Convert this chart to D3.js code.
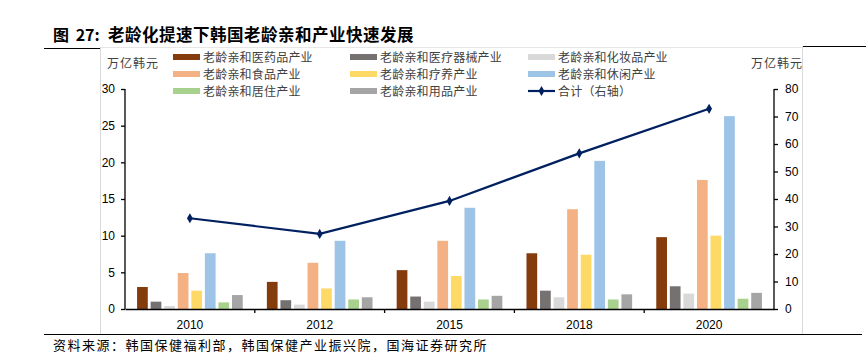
<!DOCTYPE html>
<html>
<head>
<meta charset="utf-8">
<script src="https://cdn.jsdelivr.net/npm/d3@7"></script>
<style>
	body { margin: 0; background: #fff; }
	svg { display: block; font-family: "Liberation Sans", Arial, sans-serif; }
	.cjk { font-family: "Noto Sans CJK SC", sans-serif; }
</style>
</head>
<body>
<svg id="canvas" width="866" height="354"></svg>
<script>
// data
var years = ["2010", "2012", "2015", "2018", "2020"];
var seriesNames = ["老龄亲和医药品产业", "老龄亲和医疗器械产业", "老龄亲和化妆品产业",
	"老龄亲和食品产业", "老龄亲和疗养产业", "老龄亲和休闲产业",
	"老龄亲和居住产业", "老龄亲和用品产业"];
var seriesColors = ["#843C0C", "#767171", "#D9D9D9", "#F4B183", "#FFD966", "#9DC3E6", "#A9D18E", "#A5A5A5"];
var medicine = [3.0, 3.7, 5.3, 7.6, 9.8];
var devices = [1.0, 1.2, 1.7, 2.5, 3.1];
var cosmetics = [0.4, 0.6, 1.0, 1.6, 2.1];
var food = [4.9, 6.3, 9.3, 13.6, 17.6];
var care = [2.5, 2.8, 4.5, 7.4, 10.0];
var leisure = [7.6, 9.3, 13.8, 20.2, 26.3];
var housing = [0.9, 1.3, 1.3, 1.3, 1.4];
var goods = [1.9, 1.6, 1.8, 2.0, 2.2];
var total = [33.0, 27.3, 39.3, 56.6, 72.8];
var leftTicks = [0, 5, 10, 15, 20, 25, 30];
var rightTicks = [0, 10, 20, 30, 40, 50, 60, 70, 80];
var allSeries = [medicine, devices, cosmetics, food, care, leisure, housing, goods];

var svg = d3.select("#canvas");
var plotLeft = 125, plotRight = 774, plotTop = 89, plotBottom = 309;

var x0 = d3.scaleBand().domain(years).range([plotLeft, plotRight]).padding(0);
var x1 = d3.scaleBand().domain(d3.range(allSeries.length))
	.range([0, x0.bandwidth()]).paddingInner(0.21).paddingOuter(0.89);
var yL = d3.scaleLinear().domain([0, 30]).range([plotBottom, plotTop]);
var yR = d3.scaleLinear().domain([0, 80]).range([plotBottom, plotTop]);

// frame lines
svg.append("line").attr("x1", 44).attr("x2", 100).attr("y1", 48.5).attr("y2", 48.5)
	.attr("stroke", "#000").attr("stroke-width", 1);
svg.append("line").attr("x1", 100).attr("x2", 802).attr("y1", 47.5).attr("y2", 47.5)
	.attr("stroke", "#e6e6e6").attr("stroke-width", 1);
svg.append("line").attr("x1", 802).attr("x2", 866).attr("y1", 46.5).attr("y2", 46.5)
	.attr("stroke", "#000").attr("stroke-width", 1);
svg.append("line").attr("x1", 100.5).attr("x2", 100.5).attr("y1", 47).attr("y2", 334)
	.attr("stroke", "#d9d9d9");
svg.append("line").attr("x1", 802.5).attr("x2", 802.5).attr("y1", 46).attr("y2", 334)
	.attr("stroke", "#d9d9d9");
svg.append("line").attr("x1", 44).attr("x2", 862).attr("y1", 334.5).attr("y2", 334.5)
	.attr("stroke", "#000").attr("stroke-width", 1);

// title, in two pieces so the gap after the colon stays
svg.append("text").attr("class", "cjk").attr("x", 53).attr("y", 41)
	.attr("font-size", 16).attr("font-weight", "bold").attr("fill", "#000")
	.attr("word-spacing", 3)
	.text("图 27:");
svg.append("text").attr("class", "cjk").attr("x", 108).attr("y", 41)
	.attr("font-size", 16.5).attr("font-weight", "bold").attr("fill", "#000")
	.attr("letter-spacing", 0.5)
	.text("老龄化提速下韩国老龄亲和产业快速发展");

// source
svg.append("text").attr("class", "cjk").attr("x", 53).attr("y", 350)
	.attr("font-size", 13).attr("letter-spacing", 1.5).attr("fill", "#000")
	.text("资料来源：韩国保健福利部，韩国保健产业振兴院，国海证券研究所");

// unit labels
svg.append("text").attr("class", "cjk").attr("x", 107).attr("y", 68)
	.attr("font-size", 12).attr("letter-spacing", 1).attr("fill", "#404040").text("万亿韩元");
svg.append("text").attr("class", "cjk").attr("x", 803).attr("y", 68).attr("text-anchor", "end")
	.attr("font-size", 12).attr("letter-spacing", 1).attr("fill", "#404040").text("万亿韩元");

// bars
var groups = svg.append("g").selectAll("g")
	.data(years)
	.enter()
	.append("g")
	.attr("transform", function(d){ return "translate(" + x0(d) + ",0)"; });

groups.selectAll("rect")
	.data(function(d, i){
		return allSeries.map(function(s, k){ return {k: k, v: s[i]}; });
	})
	.enter()
	.append("rect")
	.attr("x", function(d){ return x1(d.k); })
	.attr("y", function(d){ return yL(d.v); })
	.attr("width", x1.bandwidth())
	.attr("height", function(d){ return plotBottom - yL(d.v); })
	.attr("fill", function(d){ return seriesColors[d.k]; });

// axes
var axisL = svg.append("g").attr("transform", "translate(" + plotLeft + ",0)")
	.call(d3.axisLeft(yL).tickValues(leftTicks).tickSize(4).tickPadding(6));
var axisR = svg.append("g").attr("transform", "translate(" + plotRight + ",0)")
	.call(d3.axisRight(yR).tickValues(rightTicks).tickSize(4).tickPadding(7));
var axisB = svg.append("g").attr("transform", "translate(0," + plotBottom + ")")
	.call(d3.axisBottom(x0).tickSize(0).tickPadding(11));
[axisL, axisR, axisB].forEach(function(a){
	a.select(".domain").attr("stroke", "#000").attr("stroke-width", 1.3);
	a.selectAll(".tick line").attr("stroke", "#000").attr("stroke-width", 1.3);
	a.selectAll("text").attr("font-size", 12).attr("fill", "#000")
		.attr("font-family", "'Liberation Sans', Arial, sans-serif");
});
axisL.select(".domain").attr("d", "M0," + plotTop + "V" + plotBottom);
axisR.select(".domain").attr("d", "M0," + plotTop + "V" + plotBottom);
// category boundary ticks
svg.append("g").selectAll("line")
	.data(years.slice(1))
	.enter()
	.append("line")
	.attr("x1", function(d){ return x0(d); })
	.attr("x2", function(d){ return x0(d); })
	.attr("y1", plotBottom).attr("y2", plotBottom + 4)
	.attr("stroke", "#000").attr("stroke-width", 1.3);

// total line (right axis)
var lineGen = d3.line()
	.x(function(d, i){ return x0(years[i]) + x0.bandwidth() / 2; })
	.y(function(d){ return yR(d); });
svg.append("path").datum(total)
	.attr("d", lineGen)
	.attr("fill", "none").attr("stroke", "#002060").attr("stroke-width", 2.2);
var diamond = d3.symbol().type(d3.symbolDiamond).size(30);
svg.append("g").selectAll("path")
	.data(total)
	.enter()
	.append("path")
	.attr("d", diamond)
	.attr("transform", function(d, i){
		return "translate(" + (x0(years[i]) + x0.bandwidth() / 2) + "," + yR(d) + ")";
	})
	.attr("fill", "#002060");

// legend
var colX = [173, 350, 528];
var rowY = [57, 74, 91];
var legendItems = seriesNames.map(function(n, k){ return {name: n, color: seriesColors[k], line: false}; });
legendItems.push({name: "合计（右轴）", color: "#002060", line: true});
var leg = svg.append("g").selectAll("g")
	.data(legendItems)
	.enter()
	.append("g")
	.attr("transform", function(d, i){
		return "translate(" + colX[i % 3] + "," + rowY[Math.floor(i / 3)] + ")";
	});
leg.filter(function(d){ return !d.line; }).append("rect")
	.attr("x", 0).attr("y", -3).attr("width", 27).attr("height", 6)
	.attr("fill", function(d){ return d.color; });
leg.filter(function(d){ return d.line; }).append("line")
	.attr("x1", 0).attr("x2", 27).attr("y1", 0).attr("y2", 0)
	.attr("stroke", "#002060").attr("stroke-width", 2.2);
leg.filter(function(d){ return d.line; }).append("path")
	.attr("d", diamond).attr("transform", "translate(13.5,0)").attr("fill", "#002060");
leg.append("text").attr("class", "cjk")
	.attr("x", 30).attr("y", 4.5)
	.attr("font-size", 12).attr("letter-spacing", 0.2).attr("fill", "#404040")
	.text(function(d){ return d.name; });
</script>
</body>
</html>
